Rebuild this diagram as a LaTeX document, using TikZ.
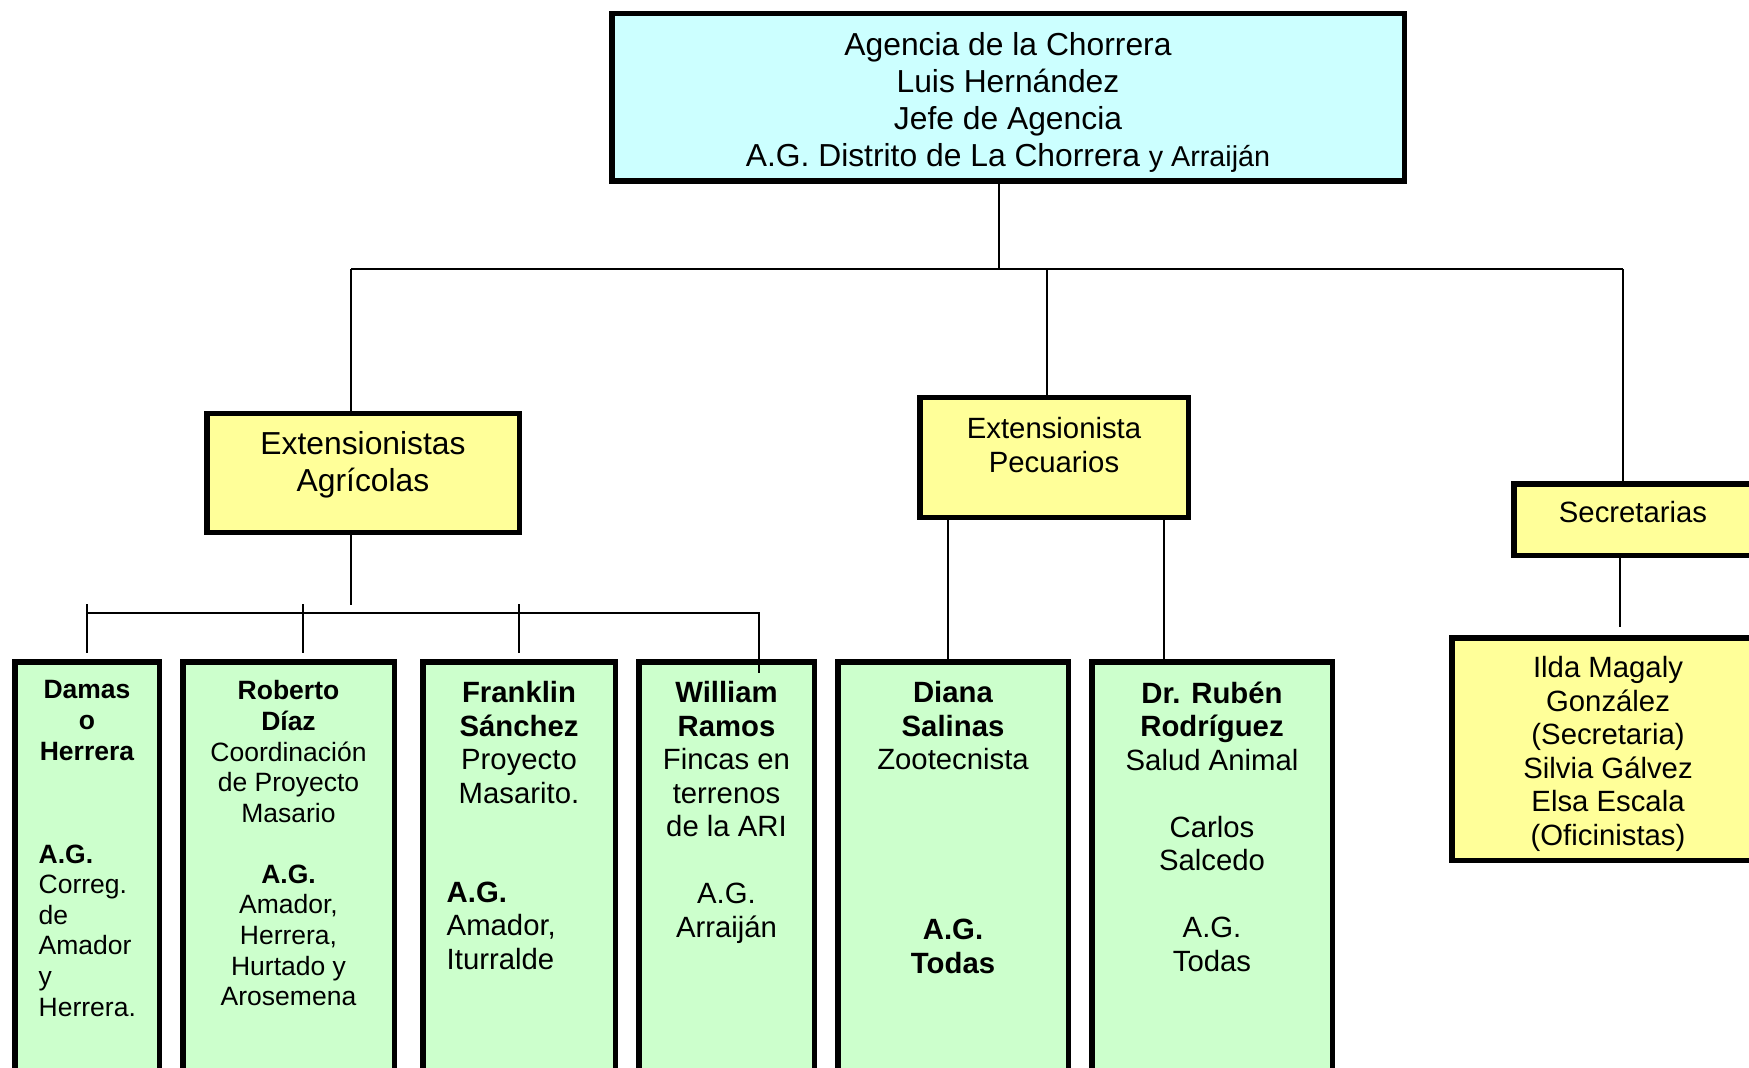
\documentclass[tikz,border=0pt]{standalone}
\usepackage{fontspec}
\setmainfont{Liberation Sans}
\usetikzlibrary{positioning}
\definecolor{jefecol}{HTML}{CCFFFF}
\definecolor{areacol}{HTML}{FFFF99}
\definecolor{perscol}{HTML}{CCFFCC}
\newcommand{\bigtxt}{\fontsize{9.05pt}{10.5pt}\selectfont}
\newcommand{\midtxt}{\fontsize{8.34pt}{9.53pt}\selectfont}
\newcommand{\smalltxt}{\fontsize{7.54pt}{8.7pt}\selectfont}
\begin{document}
\begin{tikzpicture}
  [x=0.1mm, y=-0.1mm,
   unit/.style={draw, line width=0.55mm, inner sep=0pt},
   txt/.style={inner sep=0pt, align=center},
   link/.style={line width=0.18mm}]
  \useasboundingbox (0,0) rectangle (1749,1068);
  \clip (0,0) rectangle (1749,1068);

  % boxes
  \node[unit, fill=jefecol, minimum width=79.25mm, minimum height=16.75mm] (jefe) at (1008,97.5) {};
  \node[unit, fill=areacol, minimum width=31.25mm, minimum height=11.85mm] (agri) at (363,473) {};
  \node[unit, fill=areacol, minimum width=26.85mm, minimum height=11.95mm] (pec) at (1054,457.5) {};
  \node[unit, fill=areacol, minimum width=23.85mm, minimum height=7.15mm] (secr) at (1633,519.5) {};
  \node[unit, fill=areacol, minimum width=31.25mm, minimum height=22.25mm] (ofic) at (1608,749) {};
  \foreach \name/\x/\w in {damaso/87/14.45, roberto/288.5/21.15, franklin/519/19.25,
                           william/726.5/17.55, diana/953/23.05, ruben/1212/24.05}
    \node[unit, fill=perscol, minimum width=\w mm, minimum height=43.55mm] (\name) at (\x,879.5) {};

  % texts
  \node[txt, font=\bigtxt, below=2.1mm of jefe.north] (jefe-t)
    {Agencia de la Chorrera\\Luis Hernández\\Jefe de Agencia\\
     A.G. Distrito de La Chorrera {\fontsize{8.17pt}{10.5pt}\selectfont y Arraiján}};
  \node[txt, font=\bigtxt, below=2.0mm of agri.north] (agri-t) {Extensionistas\\Agrícolas};
  \node[txt, font=\midtxt, below=2.2mm of pec.north] (pec-t) {Extensionista\\Pecuarios};
  \node[txt, font=\midtxt, below=2.0mm of secr.north] (secr-t) {Secretarias};
  \node[txt, font=\midtxt, below=2.1mm of ofic.north] (ofic-t)
    {Ilda Magaly\\González\\(Secretaria)\\Silvia Gálvez\\Elsa Escala\\(Oficinistas)};

  \node[txt, font=\smalltxt\bfseries, below=2.1mm of damaso.north] (damaso-t) {Damas\\o\\Herrera};
  \node[txt, font=\smalltxt, align=left, below right=18.5mm and 2.6mm of damaso.north west] (damaso-ag)
    {\textbf{A.G.}\\Correg.\\de\\Amador\\y\\Herrera.};
  \node[txt, font=\smalltxt, below=2.1mm of roberto.north] (roberto-t)
    {\textbf{Roberto}\\\textbf{Díaz}\\Coordinación\\de Proyecto\\Masario\\[8.7pt]
     \textbf{A.G.}\\Amador,\\Herrera,\\Hurtado y\\Arosemena};
  \node[txt, font=\midtxt, below=2.2mm of franklin.north] (franklin-t)
    {\textbf{Franklin}\\\textbf{Sánchez}\\Proyecto\\Masarito.};
  \node[txt, font=\midtxt, align=left, below right=22.2mm and 2.6mm of franklin.north west] (franklin-ag)
    {\textbf{A.G.}\\Amador,\\Iturralde};
  \node[txt, font=\midtxt, below=2.2mm of william.north] (william-t)
    {\textbf{William}\\\textbf{Ramos}\\Fincas en\\terrenos\\de la ARI\\[9.53pt]A.G.\\Arraiján};
  \node[txt, font=\midtxt, below=2.2mm of diana.north] (diana-t)
    {\textbf{Diana}\\\textbf{Salinas}\\Zootecnista\\[38.8pt]\textbf{A.G.}\\\textbf{Todas}};
  \node[txt, font=\midtxt, below=2.2mm of ruben.north] (ruben-t)
    {\textbf{Dr. Rubén}\\\textbf{Rodríguez}\\Salud Animal\\[9.53pt]Carlos\\Salcedo\\[9.53pt]A.G.\\Todas};

  % connector points
  \coordinate (hub) at (999,269);
  \coordinate (hubL) at (351,269);
  \coordinate (hubP) at (1047,269);
  \coordinate (hubR) at (1623,269);
  \coordinate (agriJ) at (351,605);
  \coordinate (barL) at (87,613);
  \coordinate (barR) at (759,613);
  \coordinate (barE) at (759,673);
  \coordinate (tk1) at (87,604);   \coordinate (tk1b) at (87,653);
  \coordinate (tk2) at (303,604);  \coordinate (tk2b) at (303,653);
  \coordinate (tk3) at (519,604);  \coordinate (tk3b) at (519,653);
  \coordinate (dl) at (948,659);
  \coordinate (rl) at (1164,659);
  \coordinate (sl) at (1620,627);

  \foreach \from/\to in {jefe.south -| hub/hub, hubL |- agri.north/hubL, hubP |- pec.north/hubP,
                         hubR |- secr.north/hubR, agri.south -| agriJ/agriJ,
                         tk1/tk1b, tk2/tk2b, tk3/tk3b,
                         pec.south -| dl/dl, pec.south -| rl/rl, secr.south -| sl/sl}
    \draw[link] (\from) -- (\to);
  \draw[link] (hubL) -- (hubR);
  \draw[link] (barL) -- (barR) -- (barE);
\end{tikzpicture}
\end{document}
